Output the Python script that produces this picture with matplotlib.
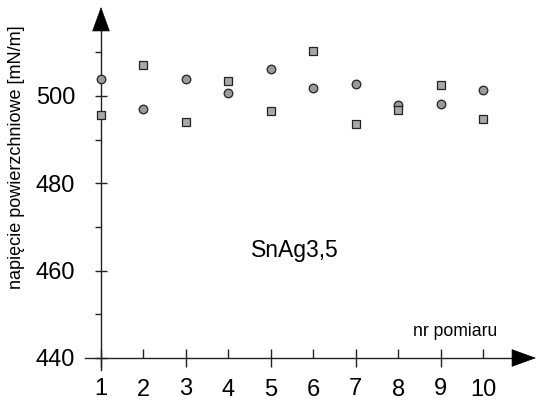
import matplotlib
matplotlib.use('Agg')
import matplotlib.pyplot as plt
import matplotlib.transforms as mtransforms
from matplotlib.ticker import FixedLocator, FixedFormatter, NullFormatter

plt.rcParams['font.family'] = ['Liberation Sans', 'DejaVu Sans']

# dane
nr = [1, 2, 3, 4, 5, 6, 7, 8, 9, 10]
kolka = [503.8, 497.0, 503.8, 500.7, 506.2, 501.8, 502.8, 497.9, 498.1, 501.4]
kwadraty = [495.7, 507.2, 494.1, 503.4, 496.6, 510.4, 493.7, 496.8, 502.6, 494.7]
y_etykiety = [440, 460, 480, 500]
y_pomocnicze = [450, 470, 490, 510]

W, H = 537, 401
fig = plt.figure(figsize=(W / 100, H / 100), dpi=100)
# os x: 1 -> px 101, 10 -> px 483 ; os y: 440 -> px 358, 500 -> px 96
px_x = (483 - 101) / 9.0
px_y = (358 - 96) / 60.0
x0, x1 = 1, 1 + (536 - 101) / px_x
y0, y1 = 440, 440 + (358 - 7) / px_y
ax = fig.add_axes([101 / W, (H - 358) / H, (536 - 101) / W, (358 - 7) / H])
ax.set_xlim(x0, x1)
ax.set_ylim(y0, y1)
for s in ax.spines.values():
    s.set_visible(False)

kol = '#222222'
# osie ze strzalkami
ax.plot([1 - 16 / px_x, x1 - 10 / px_x], [440, 440], color=kol, lw=1.0, clip_on=False)
ax.plot([1, 1], [440 - 12 / px_y, y1 - 10 / px_y], color=kol, lw=1.0, clip_on=False)
styl = '-|>,head_length=1.65,head_width=0.6'
ax.annotate('', xy=(x1, 440), xytext=(x1 - 20 / px_x, 440),
            arrowprops=dict(arrowstyle=styl, mutation_scale=10, color='black', lw=0.5,
                            shrinkA=0, shrinkB=0),
            annotation_clip=False)
ax.annotate('', xy=(1, y1), xytext=(1, y1 - 20 / px_y),
            arrowprops=dict(arrowstyle=styl, mutation_scale=10, color='black', lw=0.5,
                            shrinkA=0, shrinkB=0),
            annotation_clip=False)

# punkty pomiarowe
ax.plot(nr, kolka, 'o', ms=6.2, mfc='#9a9a9a', mec='#222222', mew=0.9, clip_on=False, zorder=5)
ax.plot(nr, kwadraty, 's', ms=5.5, mfc='#a8a8a8', mec='#222222', mew=0.9, clip_on=False, zorder=5)

# podzialki osi x
ax.xaxis.set_major_locator(FixedLocator([1, 3, 5, 7, 9]))
ax.xaxis.set_minor_locator(FixedLocator([2, 4, 6, 8, 10]))
ax.xaxis.set_major_formatter(FixedFormatter(['1', '3', '5', '7', '9']))
ax.xaxis.set_minor_formatter(FixedFormatter(['2', '4', '6', '8', '10']))
ax.tick_params(axis='x', which='major', direction='inout', length=12.5, width=1.0, color=kol,
               labelsize=17, pad=8.5)
ax.tick_params(axis='x', which='minor', direction='in', length=6.5, width=1.0, color=kol,
               labelsize=17, pad=15)

# podzialki osi y
ax.yaxis.set_major_locator(FixedLocator(y_etykiety))
ax.yaxis.set_minor_locator(FixedLocator(y_pomocnicze))
ax.yaxis.set_minor_formatter(NullFormatter())
ax.tick_params(axis='y', which='major', direction='inout', length=9, width=1.0, color=kol,
               labelsize=17, pad=14)
ax.tick_params(axis='y', which='minor', direction='out', length=4.5, width=1.0, color=kol)

# "5" minimalnie nizej jak na oryginale
for t in ax.xaxis.get_majorticklabels():
    if t.get_text() == '5':
        t.set_transform(t.get_transform() + mtransforms.ScaledTranslation(0, -0.7 / 72, fig.dpi_scale_trans))

fig.text(17 / W, 1 - 157 / H, 'napięcie powierzchniowe [mN/m]', rotation=90,
         ha='center', va='center', fontsize=13)
fig.text(295 / W, 1 - 250 / H, 'SnAg3,5', fontsize=16.5, ha='center', va='center')
ax.text(1 + (455 - 101) / px_x, 440 + (358 - 331) / px_y, 'nr pomiaru',
        fontsize=12.7, ha='center', va='center')

fig.savefig('out.png', dpi=100)
